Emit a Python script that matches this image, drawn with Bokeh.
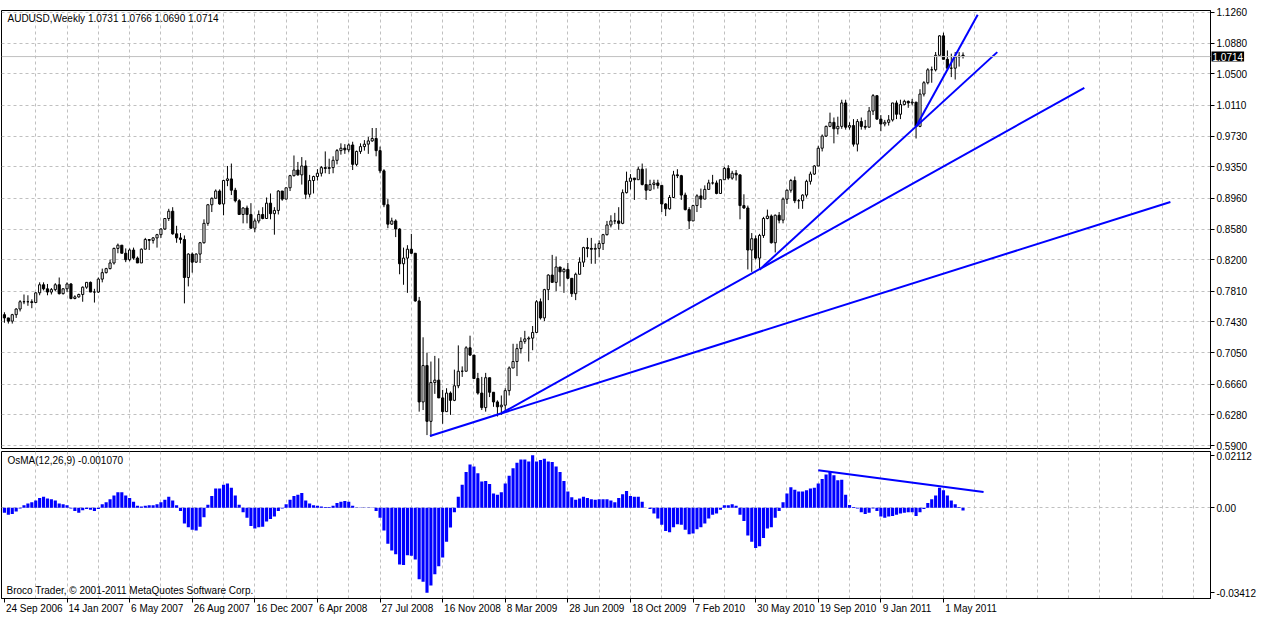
from bokeh.plotting import figure
from bokeh.models import (Range1d, FixedTicker, PrintfTickFormatter, CustomJSTickFormatter,
                          ColumnDataSource, Grid, Label, Span, LinearAxis)
from bokeh.layouts import column
from bokeh.embed import file_html
from bokeh.resources import INLINE

# ---------------- data (weekly AUDUSD) ----------------
first_open = 0.752
last_open = 1.0731

closes = [
    0.748, 0.744, 0.752, 0.759, 0.768, 0.768, 0.768, 0.767, 0.779, 0.789,
    0.784, 0.780, 0.783, 0.789, 0.778, 0.784, 0.790, 0.772, 0.774, 0.777,
    0.786, 0.792, 0.780, 0.780, 0.796, 0.804, 0.809, 0.816, 0.834, 0.838,
    0.828, 0.820, 0.832, 0.822, 0.816, 0.833, 0.845, 0.844, 0.847, 0.851,
    0.858, 0.871, 0.880, 0.852, 0.847, 0.845, 0.798, 0.827, 0.817, 0.827,
    0.841, 0.865, 0.888, 0.896, 0.905, 0.889, 0.918, 0.920, 0.906, 0.893,
    0.876, 0.884, 0.876, 0.859, 0.868, 0.876, 0.871, 0.890, 0.877, 0.881,
    0.905, 0.895, 0.909, 0.924, 0.931, 0.925, 0.936, 0.901, 0.918, 0.923,
    0.927, 0.934, 0.933, 0.934, 0.943, 0.955, 0.958, 0.956, 0.962, 0.938,
    0.954, 0.960, 0.963, 0.967, 0.970, 0.955, 0.930, 0.888, 0.864, 0.868,
    0.858, 0.815, 0.822, 0.833, 0.828, 0.769, 0.644, 0.689, 0.620, 0.668,
    0.671, 0.649, 0.632, 0.655, 0.646, 0.664, 0.682, 0.682, 0.711, 0.702,
    0.673, 0.655, 0.637, 0.674, 0.656, 0.644, 0.638, 0.640, 0.658, 0.686,
    0.694, 0.710, 0.719, 0.722, 0.723, 0.730, 0.768, 0.748, 0.783, 0.801,
    0.792, 0.811, 0.805, 0.808, 0.797, 0.778, 0.802, 0.817, 0.835, 0.834,
    0.833, 0.834, 0.840, 0.851, 0.863, 0.868, 0.868, 0.865, 0.903, 0.917,
    0.921, 0.919, 0.932, 0.913, 0.906, 0.913, 0.915, 0.912, 0.889, 0.883,
    0.897, 0.925, 0.924, 0.900, 0.882, 0.868, 0.887, 0.899, 0.895, 0.907,
    0.915, 0.915, 0.902, 0.919, 0.933, 0.921, 0.927, 0.925, 0.887, 0.884,
    0.832, 0.846, 0.822, 0.850, 0.871, 0.874, 0.841, 0.875, 0.869, 0.895,
    0.906, 0.918, 0.893, 0.893, 0.900, 0.917, 0.926, 0.936, 0.958, 0.973,
    0.985, 0.990, 0.982, 0.985, 1.014, 0.984, 0.986, 0.963, 0.991, 0.985,
    0.984, 1.004, 1.023, 0.994, 0.988, 0.990, 0.993, 1.014, 1.000, 1.012,
    1.016, 1.014, 1.015, 0.985, 1.025, 1.039, 1.055, 1.055, 1.073, 1.097,
    1.068, 1.057, 1.057, 1.071, 1.072, 1.0714,
]

highs = [
    0.755, 0.747, 0.753, 0.760, 0.770, 0.777, 0.776, 0.771, 0.780, 0.792,
    0.792, 0.790, 0.785, 0.791, 0.798, 0.785, 0.792, 0.791, 0.776, 0.778,
    0.787, 0.792, 0.793, 0.784, 0.798, 0.809, 0.810, 0.820, 0.835, 0.840,
    0.838, 0.834, 0.834, 0.835, 0.824, 0.834, 0.847, 0.845, 0.848, 0.852,
    0.859, 0.871, 0.883, 0.885, 0.862, 0.853, 0.850, 0.828, 0.829, 0.828,
    0.842, 0.870, 0.889, 0.897, 0.907, 0.907, 0.919, 0.936, 0.939, 0.909,
    0.895, 0.885, 0.887, 0.890, 0.871, 0.881, 0.885, 0.897, 0.902, 0.885,
    0.906, 0.905, 0.909, 0.925, 0.949, 0.941, 0.947, 0.943, 0.925, 0.924,
    0.932, 0.936, 0.954, 0.945, 0.948, 0.957, 0.964, 0.963, 0.964, 0.966,
    0.955, 0.964, 0.968, 0.972, 0.983, 0.983, 0.960, 0.932, 0.895, 0.872,
    0.870, 0.859, 0.835, 0.838, 0.852, 0.828, 0.774, 0.724, 0.705, 0.694,
    0.701, 0.698, 0.659, 0.661, 0.657, 0.684, 0.714, 0.688, 0.713, 0.726,
    0.702, 0.680, 0.675, 0.680, 0.673, 0.656, 0.646, 0.652, 0.661, 0.688,
    0.716, 0.716, 0.724, 0.732, 0.725, 0.738, 0.770, 0.772, 0.784, 0.802,
    0.826, 0.824, 0.811, 0.810, 0.816, 0.796, 0.804, 0.823, 0.836, 0.847,
    0.847, 0.840, 0.844, 0.852, 0.868, 0.875, 0.878, 0.885, 0.907, 0.929,
    0.926, 0.921, 0.935, 0.939, 0.933, 0.919, 0.919, 0.919, 0.912, 0.890,
    0.900, 0.930, 0.932, 0.925, 0.903, 0.885, 0.888, 0.901, 0.908, 0.912,
    0.919, 0.925, 0.918, 0.919, 0.935, 0.937, 0.930, 0.931, 0.925, 0.901,
    0.887, 0.853, 0.850, 0.852, 0.873, 0.882, 0.876, 0.876, 0.879, 0.897,
    0.907, 0.920, 0.923, 0.895, 0.901, 0.919, 0.929, 0.937, 0.961, 0.975,
    0.986, 1.002, 0.996, 0.997, 1.018, 1.018, 0.990, 0.994, 0.994, 0.996,
    0.993, 1.009, 1.025, 1.023, 0.999, 0.993, 0.999, 1.013, 1.017, 1.018,
    1.018, 1.017, 1.019, 1.011, 1.031, 1.041, 1.057, 1.059, 1.077, 1.098,
    1.101, 1.079, 1.075, 1.077, 1.077, 1.0766,
]

lows = [
    0.742, 0.741, 0.741, 0.748, 0.756, 0.765, 0.763, 0.760, 0.768, 0.776,
    0.782, 0.776, 0.777, 0.781, 0.777, 0.777, 0.780, 0.771, 0.771, 0.773,
    0.768, 0.784, 0.780, 0.767, 0.779, 0.792, 0.803, 0.808, 0.814, 0.828,
    0.828, 0.817, 0.818, 0.820, 0.816, 0.816, 0.833, 0.832, 0.840, 0.835,
    0.847, 0.857, 0.868, 0.851, 0.841, 0.840, 0.766, 0.787, 0.804, 0.816,
    0.816, 0.840, 0.862, 0.879, 0.897, 0.888, 0.875, 0.911, 0.900, 0.891,
    0.876, 0.865, 0.865, 0.859, 0.854, 0.865, 0.870, 0.871, 0.870, 0.851,
    0.876, 0.893, 0.895, 0.905, 0.923, 0.924, 0.913, 0.895, 0.897, 0.902,
    0.918, 0.923, 0.927, 0.926, 0.927, 0.938, 0.950, 0.951, 0.953, 0.931,
    0.936, 0.951, 0.955, 0.951, 0.966, 0.948, 0.927, 0.885, 0.859, 0.863,
    0.848, 0.802, 0.789, 0.779, 0.827, 0.768, 0.632, 0.634, 0.603, 0.601,
    0.654, 0.649, 0.617, 0.635, 0.628, 0.645, 0.661, 0.675, 0.683, 0.701,
    0.673, 0.653, 0.634, 0.632, 0.650, 0.638, 0.626, 0.628, 0.632, 0.652,
    0.688, 0.676, 0.704, 0.716, 0.694, 0.708, 0.731, 0.746, 0.744, 0.770,
    0.792, 0.781, 0.787, 0.779, 0.796, 0.774, 0.770, 0.802, 0.811, 0.823,
    0.815, 0.815, 0.823, 0.832, 0.850, 0.860, 0.864, 0.857, 0.864, 0.902,
    0.907, 0.894, 0.919, 0.912, 0.894, 0.909, 0.907, 0.908, 0.879, 0.874,
    0.882, 0.897, 0.921, 0.894, 0.881, 0.858, 0.868, 0.879, 0.884, 0.895,
    0.907, 0.913, 0.901, 0.902, 0.919, 0.919, 0.919, 0.918, 0.870, 0.883,
    0.808, 0.805, 0.820, 0.809, 0.847, 0.870, 0.840, 0.829, 0.865, 0.865,
    0.889, 0.903, 0.890, 0.883, 0.883, 0.897, 0.913, 0.925, 0.936, 0.954,
    0.972, 0.984, 0.964, 0.975, 0.982, 0.981, 0.981, 0.960, 0.954, 0.981,
    0.981, 0.984, 0.999, 0.993, 0.979, 0.985, 0.986, 0.991, 0.994, 0.994,
    1.011, 1.008, 1.011, 0.970, 0.984, 1.022, 1.037, 1.039, 1.053, 1.073,
    1.069, 1.055, 1.046, 1.043, 1.059, 1.0690,
]

osma = [
    -0.0020, -0.0028, -0.0025, -0.0015, -0.0003, 0.0010, 0.0018, 0.0023, 0.0030, 0.0040,
    0.0045, 0.0038, 0.0035, 0.0030, 0.0018, 0.0015, 0.0010, -0.0003, -0.0013, -0.0020,
    -0.0010, -0.0005, -0.0008, -0.0013, -0.0005, 0.0015, 0.0023, 0.0035, 0.0050, 0.0063,
    0.0063, 0.0050, 0.0040, 0.0025, 0.0008, 0.0005, 0.0008, 0.0010, 0.0010, 0.0015,
    0.0023, 0.0033, 0.0045, 0.0030, 0.0010, -0.0013, -0.0063, -0.0078, -0.0088, -0.0091,
    -0.0076, -0.0038, 0.0013, 0.0048, 0.0078, 0.0078, 0.0093, 0.0098, 0.0081, 0.0050,
    0.0013, -0.0018, -0.0040, -0.0073, -0.0083, -0.0078, -0.0076, -0.0055, -0.0045, -0.0035,
    -0.0013, -0.0003, 0.0015, 0.0033, 0.0048, 0.0053, 0.0060, 0.0030, 0.0018, 0.0010,
    0.0008, 0.0005, 0.0003, 0.0003, 0.0008, 0.0020, 0.0025, 0.0028, 0.0025, 0.0008,
    0.0001, 0.0001, 0.0001, 0.0001, 0.0001, -0.0013, -0.0040, -0.0091, -0.0144, -0.0171,
    -0.0186, -0.0227, -0.0229, -0.0190, -0.0192, -0.0207, -0.0287, -0.0297, -0.03412, -0.0312,
    -0.0267, -0.0234, -0.0199, -0.0136, -0.0079, -0.0018, 0.0045, 0.0093, 0.0144, 0.0174,
    0.0166, 0.0139, 0.0106, 0.0108, 0.0096, 0.0058, 0.0053, 0.0063, 0.0098, 0.0129,
    0.0159, 0.0181, 0.0194, 0.0194, 0.0186, 0.02112, 0.0186, 0.0192, 0.0197, 0.0186,
    0.0184, 0.0166, 0.0144, 0.0108, 0.0066, 0.0043, 0.0033, 0.0038, 0.0045, 0.0040,
    0.0035, 0.0033, 0.0035, 0.0035, 0.0035, 0.0030, 0.0023, 0.0040, 0.0055, 0.0068,
    0.0048, 0.0045, 0.0045, 0.0025, 0.0000, -0.0005, -0.0023, -0.0043, -0.0068, -0.0093,
    -0.0098, -0.0078, -0.0066, -0.0068, -0.0088, -0.0106, -0.0103, -0.0086, -0.0078, -0.0063,
    -0.0043, -0.0028, -0.0023, -0.0008, 0.0010, 0.0010, 0.0015, 0.0008, -0.0028, -0.0053,
    -0.0111, -0.0136, -0.0161, -0.0154, -0.0121, -0.0083, -0.0078, -0.0040, -0.0013, 0.0023,
    0.0058, 0.0083, 0.0073, 0.0066, 0.0066, 0.0071, 0.0078, 0.0081, 0.0098, 0.0116,
    0.0134, 0.0144, 0.0131, 0.0111, 0.0113, 0.0053, 0.0011, 0.0003, -0.0003, -0.0018,
    -0.0025, -0.0020, -0.0003, -0.0013, -0.0035, -0.0040, -0.0035, -0.0033, -0.0028, -0.0023,
    -0.0020, -0.0018, -0.0018, -0.0033, -0.0018, -0.0005, 0.0020, 0.0035, 0.0050, 0.0081,
    0.0071, 0.0050, 0.0030, 0.0015, 0.0003, -0.00107,
]

# trend lines on the price panel (bar index, price)
trend_x0 = [108.75, 127.25, 193.0, 233.0]
trend_y0 = [0.6019, 0.6307, 0.8077, 0.9848]
trend_x1 = [298.0, 276.0, 253.75, 248.75]
trend_y1 = [0.8915, 1.0327, 1.0769, 1.1231]

# trend line on the OsMA panel
osma_line_x = [208.0, 250.25]
osma_line_y = [0.0151, 0.0064]

price_ticks = [0.5900, 0.6280, 0.6660, 0.7050, 0.7430, 0.7810, 0.8200, 0.8580,
               0.8960, 0.9350, 0.9730, 1.0110, 1.0500, 1.0880, 1.1260]
osma_ticks = [-0.03412, 0.0, 0.02112]
date_labels = ["24 Sep 2006", "14 Jan 2007", "6 May 2007", "26 Aug 2007",
               "16 Dec 2007", "6 Apr 2008", "27 Jul 2008", "16 Nov 2008",
               "8 Mar 2009", "28 Jun 2009", "18 Oct 2009", "7 Feb 2010",
               "30 May 2010", "19 Sep 2010", "9 Jan 2011", "1 May 2011"]
date_tick_bars = [16 * k for k in range(len(date_labels))]
grid_bars = list(range(8, 309, 8))
last_price = 1.0714

# ---------------- derived candle geometry ----------------
n = len(closes)
assert len(highs) == n and len(lows) == n and len(osma) == n
idx = list(range(n))
opens = [first_open] + closes[:-1]
opens[-1] = last_open
hi = [max(h, o, c) for h, o, c in zip(highs, opens, closes)]
lo = [min(l, o, c) for l, o, c in zip(lows, opens, closes)]
top = [max(o, c) for o, c in zip(opens, closes)]
bot = [min(o, c) for o, c in zip(opens, closes)]
fill = ["white" if c >= o else "black" for o, c in zip(opens, closes)]

src = ColumnDataSource(dict(x=idx, hi=hi, lo=lo, top=top, bot=bot, fill=fill, osma=osma))

FONT = "Liberation Sans"
FS = "10px"
GRID_COLOR = "#c0c0c0"
W = 1258
RIGHT = 46
LEFT = 1
X0, X1 = -0.75, 308.25
xr = Range1d(X0, X1)
px_per_bar = (W - RIGHT - LEFT) / (X1 - X0)

# approximate advance widths of Liberation Sans (per 1000 em) to left-align date labels
CW = {" ": 278, "S": 667, "e": 556, "p": 556, "J": 500, "a": 556, "n": 556, "M": 833,
      "y": 500, "A": 667, "u": 556, "g": 556, "D": 722, "c": 500, "r": 333, "N": 722,
      "o": 556, "v": 500, "O": 778, "t": 278, "F": 611, "b": 556, "l": 222}
def text_w(s, size=10.0):
    return sum(CW.get(ch, 556) for ch in s) * size / 1000.0

label_pos = [b + (text_w(s) / 2 + 1.5) / px_per_bar for b, s in zip(date_tick_bars, date_labels)]

def style_common(p):
    p.grid.visible = False
    p.outline_line_color = "black"
    p.outline_line_width = 1
    p.background_fill_color = "white"
    p.border_fill_color = "white"
    p.add_layout(Grid(dimension=0, ticker=FixedTicker(ticks=grid_bars),
                      grid_line_color=GRID_COLOR, grid_line_dash="3 3"))

def style_yaxis(ax):
    ax.axis_line_color = "black"
    ax.major_tick_line_color = "black"
    ax.major_tick_out = 4
    ax.major_tick_in = 0
    ax.minor_tick_out = 0
    ax.minor_tick_in = 0
    ax.major_label_standoff = 2
    ax.major_label_text_font = FONT
    ax.major_label_text_font_size = FS
    ax.major_label_text_color = "black"

# ---------------- price panel ----------------
p1 = figure(width=W, height=451, x_range=xr, y_range=Range1d(0.5864, 1.1284),
            x_axis_location=None, y_axis_location="right", toolbar_location=None,
            output_backend="svg", min_border_left=LEFT, min_border_right=RIGHT,
            min_border_top=0, min_border_bottom=3)
style_common(p1)
p1.add_layout(Grid(dimension=1, ticker=FixedTicker(ticks=price_ticks),
                   grid_line_color=GRID_COLOR, grid_line_dash="3 3"))
ya = p1.yaxis[0]
ya.ticker = FixedTicker(ticks=price_ticks)
ya.formatter = PrintfTickFormatter(format="%.4f")
style_yaxis(ya)

p1.add_layout(Span(location=last_price, dimension="width", line_color=GRID_COLOR, line_width=1))

p1.segment(x0="x", y0="lo", x1="x", y1="hi", source=src, line_color="black", line_width=1)
p1.vbar(x="x", width=0.55, top="top", bottom="bot", source=src,
        fill_color="fill", line_color="black", line_width=1)

tsrc = ColumnDataSource(dict(x0=trend_x0, y0=trend_y0, x1=trend_x1, y1=trend_y1))
p1.segment(x0="x0", y0="y0", x1="x1", y1="y1", source=tsrc, line_color="#0000ff", line_width=2)

p1.add_layout(Label(x=X0, y=1.1284, x_offset=6, y_offset=-2,
                    text="AUDUSD,Weekly  1.0731 1.0766 1.0690 1.0714",
                    text_baseline="top", text_font=FONT, text_font_size=FS, text_color="black"))
# current-price box sitting on the price scale (kept in a side panel so it is not clipped
# by the frame; the top panel only costs a few pixels of height)
box_kw = dict(x=X1, y=last_price, x_offset=1, text="1.0714",
              text_baseline="middle", text_font=FONT, text_font_size=FS,
              text_color="white", background_fill_color="black")
if "padding" in Label.properties():
    box_kw["padding"] = 1
p1.add_layout(Label(**box_kw), "above")

# ---------------- OsMA panel ----------------
p2 = figure(width=W, height=165, x_range=xr, y_range=Range1d(-0.03639, 0.02263),
            y_axis_location="right", toolbar_location=None, output_backend="svg",
            min_border_left=LEFT, min_border_right=RIGHT, min_border_top=0,
            min_border_bottom=0)
style_common(p2)
p2.add_layout(Grid(dimension=1, ticker=FixedTicker(ticks=[0.0]),
                   grid_line_color=GRID_COLOR, grid_line_dash="3 3"))
yb = p2.yaxis[0]
yb.ticker = FixedTicker(ticks=osma_ticks)
yb.formatter = CustomJSTickFormatter(code="""
    if (Math.abs(tick) < 1e-9) { return "0.00"; }
    return tick.toFixed(5);
""")
style_yaxis(yb)

# tick-mark axis (no labels)
xa = p2.xaxis[0]
xa.ticker = FixedTicker(ticks=date_tick_bars)
xa.formatter = CustomJSTickFormatter(code="return '';")
xa.axis_line_color = "black"
xa.major_tick_line_color = "black"
xa.major_tick_out = 4
xa.major_tick_in = 0
xa.minor_tick_out = 0
xa.minor_tick_in = 0
xa.major_label_standoff = 0
xa.major_label_text_font_size = "1px"

# label axis: labels start at the tick like the terminal does
xl = LinearAxis(ticker=FixedTicker(ticks=label_pos),
                formatter=CustomJSTickFormatter(args=dict(labels=date_labels),
                                                code="return labels[Math.floor(tick / 16 + 1e-6)] || '';"))
xl.axis_line_color = None
xl.major_tick_line_color = None
xl.major_tick_out = 0
xl.major_tick_in = 0
xl.minor_tick_out = 0
xl.minor_tick_in = 0
xl.major_label_standoff = 0
xl.major_label_text_font = FONT
xl.major_label_text_font_size = FS
xl.major_label_text_color = "black"
p2.add_layout(xl, "below")

p2.vbar(x="x", width=0.8, top="osma", bottom=0, source=src,
        fill_color="#0000ff", line_color=None)
p2.line(x=osma_line_x, y=osma_line_y, line_color="#0000ff", line_width=2)

p2.add_layout(Label(x=X0, y=0.02263, x_offset=6, y_offset=-3,
                    text="OsMA(12,26,9) -0.001070", text_baseline="top",
                    text_font=FONT, text_font_size=FS, text_color="black"))
p2.add_layout(Label(x=X0, y=-0.03639, x_offset=5, y_offset=3,
                    text="Broco Trader, \u00a9 2001-2011 MetaQuotes Software Corp.",
                    text_baseline="bottom", text_font=FONT, text_font_size=FS,
                    text_color="black"))

layout = column(p1, p2)
open("out.html", "w").write(file_html(layout, INLINE))
